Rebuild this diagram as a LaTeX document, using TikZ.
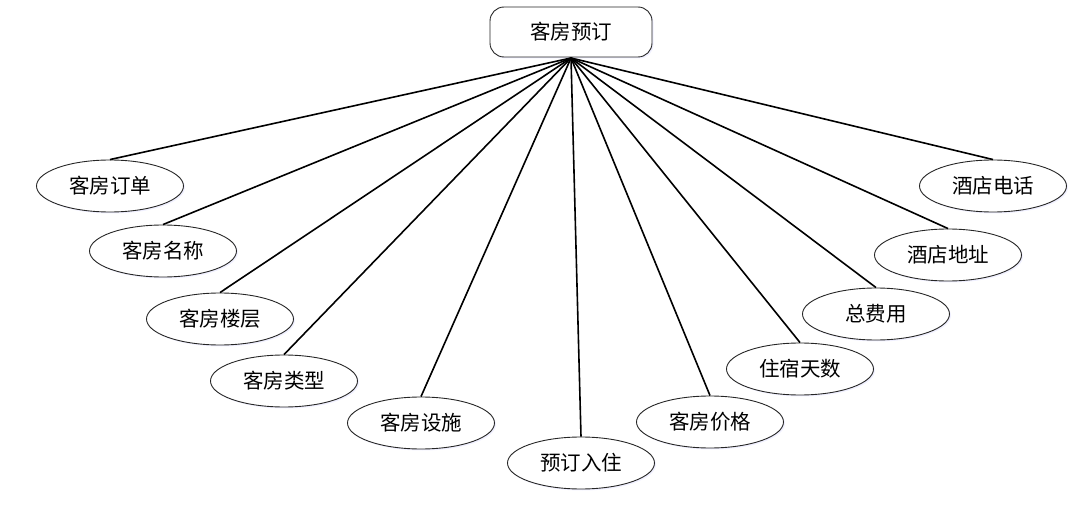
\documentclass[tikz,border=0pt]{standalone}
\usepackage{fontspec}
\newfontfamily\cjk{Noto Sans CJK SC}
\usetikzlibrary{shapes.geometric,shadows}
\begin{document}
\begin{tikzpicture}[x=1pt,y=-1pt,
  attr/.style={ellipse, draw=black!85, line width=0.9pt, fill=white,
    minimum width=147pt, minimum height=52pt, inner sep=0pt,
    font=\cjk\fontsize{20.5}{23}\selectfont,
    drop shadow={shadow xshift=1.5pt, shadow yshift=-1.5pt, fill=blue!6, opacity=1}},
  rootbox/.style={rectangle, rounded corners=14pt, draw=black!85, line width=0.9pt, fill=white,
    minimum width=162pt, minimum height=50pt, inner sep=0pt,
    font=\cjk\fontsize{20.5}{23}\selectfont,
    drop shadow={shadow xshift=1.5pt, shadow yshift=-1.5pt, fill=blue!6, opacity=1}},
  link/.style={line width=1.6pt, black}]
\useasboundingbox (0,0) rectangle (1088,508);
\node[rootbox] (root) at (571,32) {客房预订};
\coordinate (hub) at (571,58);
\node[attr] (a1) at (110,186) {客房订单};
\node[attr] (a2) at (163,251) {客房名称};
\node[attr] (a3) at (220,319) {客房楼层};
\node[attr] (a4) at (284,381) {客房类型};
\node[attr] (a5) at (421,423) {客房设施};
\node[attr] (a6) at (581,463) {预订入住};
\node[attr] (a7) at (710,422) {客房价格};
\node[attr] (a8) at (800,369) {住宿天数};
\node[attr] (a9) at (876,314) {总费用};
\node[attr] (a10) at (948,255) {酒店地址};
\node[attr] (a11) at (993,186) {酒店电话};
\foreach \n in {a1,a2,a3,a4,a5,a6,a7,a8,a9,a10,a11}
  \draw[link] (hub) -- (\n.north);
\end{tikzpicture}
\end{document}
